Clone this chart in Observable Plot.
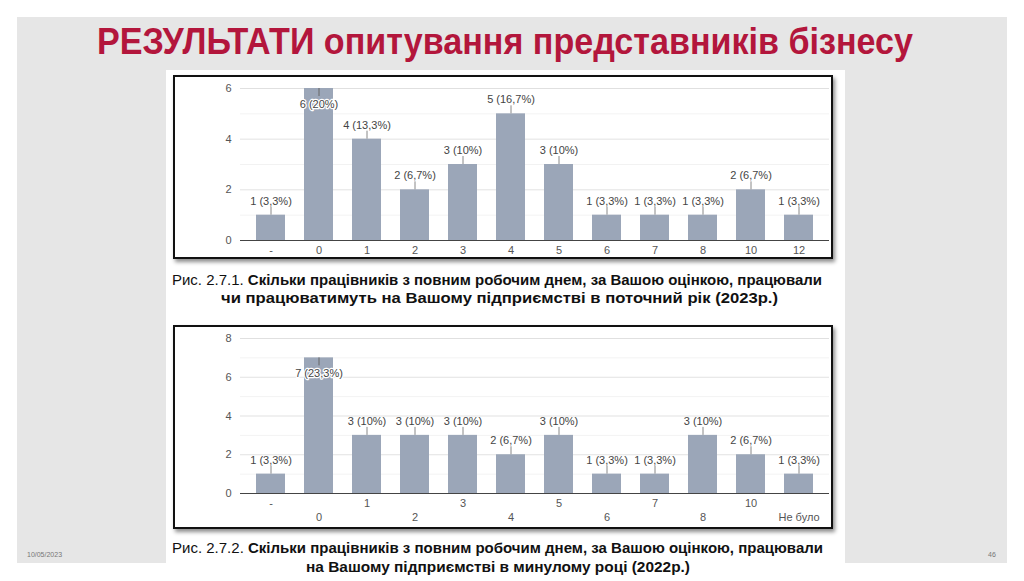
<!DOCTYPE html>
<html>
<head>
<meta charset="utf-8">
<script src="https://cdn.jsdelivr.net/npm/d3@7"></script>
<script src="https://cdn.jsdelivr.net/npm/@observablehq/plot@0.6"></script>
<style>
  html, body { margin: 0; padding: 0; background: #fff; }
  #slide { position: relative; width: 1024px; height: 581px; overflow: hidden; font-family: "Liberation Sans", Arial, sans-serif; }
  .grey { position: absolute; left: 17px; top: 17px; width: 990px; height: 546px; background: #e6e6e6; }
  .line { position: absolute; white-space: nowrap; transform-origin: 0 0; }
  .title { color: #b3163c; font-family: "Liberation Sans", Arial, sans-serif; font-weight: bold; font-size: 36px; line-height: 36px; }
  .panel { position: absolute; left: 166px; top: 70px; width: 679px; height: 520px; background: #fff; }
  .box { position: absolute; left: 173px; width: 660px; box-sizing: border-box; border: 2px solid #111; background: #fff; box-shadow: 2px 3px 4px rgba(0,0,0,0.45); }
  .box svg { display: block; }
  .cap { font-family: "Liberation Sans", Arial, sans-serif; font-size: 15.5px; line-height: 18px; color: #111; }
  .cap b { font-weight: bold; }
  .foot { position: absolute; font-size: 7px; color: #777; font-family: "Liberation Sans", sans-serif; }
</style>
</head>
<body>
<div id="slide">
  <div class="grey"></div>
  <div class="line title" data-x0="97" data-x1="913" style="top:24px;">РЕЗУЛЬТАТИ опитування представників бізнесу</div>
  <div class="panel"></div>
  <div class="box" id="box1" style="top:75px;height:184px;"></div>
  <div class="line cap" data-x0="172" data-x1="822" style="top:271px;">Рис. 2.7.1. <b>Скільки працівників з повним робочим днем, за Вашою оцінкою, працювали</b></div>
  <div class="line cap" data-x0="221" data-x1="778" style="top:289px;"><b>чи працюватимуть на Вашому підприємстві в поточний рік (2023р.)</b></div>
  <div class="box" id="box2" style="top:325px;height:204px;"></div>
  <div class="line cap" data-x0="172" data-x1="823" style="top:539px;">Рис. 2.7.2. <b>Скільки працівників з повним робочим днем, за Вашою оцінкою, працювали</b></div>
  <div class="line cap" data-x0="306" data-x1="690" style="top:558px;"><b>на Вашому підприємстві в минулому році (2022р.)</b></div>
  <div class="foot" style="left:27px;top:551px;">10/05/2023</div>
  <div class="foot" style="left:988px;top:551px;">46</div>
</div>
<script>
// ---- Data ----
const categories2023 = ["-", "0", "1", "2", "3", "4", "5", "6", "7", "8", "10", "12"];
const counts2023 = [1, 6, 4, 2, 3, 5, 3, 1, 1, 1, 2, 1];
const yTicks2023 = [0, 2, 4, 6];

const categories2022 = ["-", "0", "1", "2", "3", "4", "5", "6", "7", "8", "10", "Не було"];
const counts2022 = [1, 7, 3, 3, 3, 2, 3, 1, 1, 3, 2, 1];
const yTicks2022 = [0, 2, 4, 6, 8];

const totalRespondents = 30;

const barColor = "#9ba6b8";
const fmtPct = v => d3.format(".1~f")(v).replace(".", ",");

// fit text lines horizontally into their span
document.querySelectorAll(".line").forEach(el => {
  const x0 = +el.dataset.x0, x1 = +el.dataset.x1;
  el.style.left = x0 + "px";
  const w = el.getBoundingClientRect().width;
  el.style.transform = `scaleX(${(x1 - x0) / w})`;
});

function makeChart({cats, counts, yTicks, height, marginTop, marginBottom, staggered}) {
  const data = cats.map((c, i) => ({
    cat: c,
    n: counts[i],
    label: `${counts[i]} (${fmtPct(counts[i] / totalRespondents * 100)}%)`
  }));
  const yMax = d3.max(yTicks);
  const nMax = d3.max(counts);
  const top = data.filter(d => d.n === nMax);
  const rest = data.filter(d => d.n !== nMax);
  const gridAll = d3.range(1, yMax + 1);
  const axisMarks = staggered
    ? [
        Plot.axisX({ticks: cats.filter((d, i) => i % 2 === 0), tickSize: 0, tickPadding: 6, fontSize: 11, fill: "#555", label: null}),
        Plot.axisX({ticks: cats.filter((d, i) => i % 2 === 1), tickSize: 0, tickPadding: 20, fontSize: 11, fill: "#555", label: null})
      ]
    : [Plot.axisX({tickSize: 0, tickPadding: 6, fontSize: 11, fill: "#555", label: null})];
  return Plot.plot({
    width: 656,
    height,
    marginLeft: 65,
    marginRight: 2,
    marginTop,
    marginBottom,
    style: {fontFamily: "'Liberation Sans', Arial, sans-serif", fontSize: "11px", color: "#555", background: "#fff"},
    x: {domain: cats, paddingInner: 0.39, paddingOuter: 0.22, label: null},
    y: {domain: [0, yMax], label: null},
    marks: [
      Plot.gridY(gridAll, {stroke: "#000", strokeOpacity: 0.05}),
      Plot.gridY(yTicks.filter(t => t > 0), {stroke: "#000", strokeOpacity: 0.07}),
      Plot.axisY({ticks: yTicks, tickFormat: "d", tickSize: 0, tickPadding: 9, fontSize: 11, fill: "#555", label: null}),
      ...axisMarks,
      Plot.barY(data, {x: "cat", y: "n", fill: barColor}),
      Plot.ruleY([0], {stroke: "#444", strokeWidth: 1.2}),
      Plot.ruleX(rest, {x: "cat", y1: "n", y2: "n", insetBottom: 8, stroke: "#888", strokeWidth: 1}),
      Plot.text(rest, {x: "cat", y: "n", text: "label", dy: -14, fontSize: 11, fill: "#444"}),
      Plot.ruleX(top, {x: "cat", y1: "n", y2: "n", insetTop: 8, stroke: "#666", strokeWidth: 1}),
      Plot.text(top, {x: "cat", y: "n", text: "label", dy: 16, fontSize: 11, fill: "#444", stroke: "#fff", strokeWidth: 2.5, paintOrder: "stroke"})
    ]
  });
}

document.getElementById("box1").appendChild(makeChart({
  cats: categories2023, counts: counts2023, yTicks: yTicks2023,
  height: 180, marginTop: 11, marginBottom: 17, staggered: false
}));
document.getElementById("box2").appendChild(makeChart({
  cats: categories2022, counts: counts2022, yTicks: yTicks2022,
  height: 200, marginTop: 11, marginBottom: 34, staggered: true
}));
</script>
</body>
</html>
